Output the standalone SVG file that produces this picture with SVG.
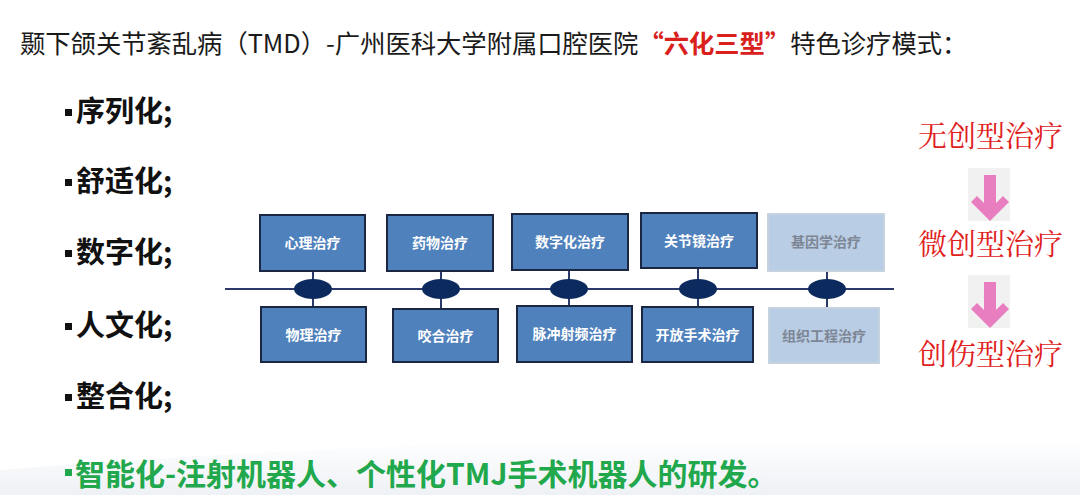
<svg xmlns="http://www.w3.org/2000/svg" width="1080" height="495" viewBox="0 0 1080 495">
<defs>
<style>
.title{font-family:"Noto Sans CJK SC","Noto Sans",sans-serif;font-size:25.3px;fill:#1a1a1a}
.red{fill:#d9201c;font-weight:bold}
.bul{font-family:"Noto Sans CJK SC","Noto Sans",sans-serif;font-size:29px;font-weight:bold;fill:#111}
.green{font-family:"Noto Sans CJK SC","Noto Sans",sans-serif;font-size:30px;font-weight:bold;fill:#21a84c}
.box{fill:#4f81bd;stroke:#1b2742;stroke-width:2}
.lbox{fill:#b9cde5;stroke:#c6d2e0;stroke-width:2}
.bt{font-family:"Noto Sans CJK SC","Noto Sans",sans-serif;font-size:14px;font-weight:bold;fill:#fff;text-anchor:middle}
.lbt{fill:#7d8694}
.knot{fill:#0c2a5e}
.ln{stroke:#2b3a68;stroke-width:2;fill:none}
.rt{font-family:"Noto Serif CJK SC","Noto Sans CJK SC",serif;font-size:29px;fill:#e0201c}
.arr{fill:#e87dbf}
.arrbg{fill:#f1f1f1}
</style>
<linearGradient id="bg" x1="0" y1="0" x2="0" y2="1">
<stop offset="0" stop-color="#ffffff"/>
<stop offset="1" stop-color="#eef1f5"/>
</linearGradient>
</defs>
<rect x="0" y="0" width="1080" height="495" fill="#ffffff"/>
<path d="M0,470 Q500,430 1080,440 L1080,495 L0,495 Z" fill="url(#bg)"/>

<g id="title">
<text class="title" x="20" y="53">颞下颌关节紊乱病（TMD）-广州医科大学附属口腔医院<tspan class="red">“六化三型”</tspan>特色诊疗模式：</text>
</g>

<g id="bullets">
<rect x="65" y="109" width="7" height="7" fill="#111"/>
<text class="bul" x="76" y="122">序列化;</text>
<rect x="65" y="179" width="7" height="7" fill="#111"/>
<text class="bul" x="76" y="192">舒适化;</text>
<rect x="65" y="250" width="7" height="7" fill="#111"/>
<text class="bul" x="76" y="263">数字化;</text>
<rect x="65" y="323" width="7" height="7" fill="#111"/>
<text class="bul" x="76" y="336">人文化;</text>
<rect x="65" y="394" width="7" height="7" fill="#111"/>
<text class="bul" x="76" y="407">整合化;</text>
<rect x="65" y="469" width="7" height="7" fill="#21a84c"/>
<text class="green" x="75" y="485">智能化-注射机器人、个性化TMJ手术机器人的研发。</text>
</g>

<g id="connectors">
<line class="ln" x1="225" y1="289" x2="894" y2="289"/>
<line class="ln" x1="313" y1="271" x2="313" y2="308"/>
<line class="ln" x1="441" y1="271" x2="441" y2="309"/>
<line class="ln" x1="569" y1="270" x2="569" y2="307"/>
<line class="ln" x1="698" y1="268" x2="698" y2="307"/>
<line class="ln" x1="827" y1="271" x2="827" y2="308"/>
<ellipse class="knot" cx="313" cy="289" rx="19" ry="10"/>
<ellipse class="knot" cx="441" cy="289" rx="19" ry="10"/>
<ellipse class="knot" cx="569" cy="289" rx="19" ry="10"/>
<ellipse class="knot" cx="698" cy="289" rx="19" ry="10"/>
<ellipse class="knot" cx="827" cy="289" rx="19" ry="10"/>
</g>

<g id="n-xinli"><rect class="box" x="260" y="215" width="105" height="56"/><text class="bt" x="312.5" y="248">心理治疗</text></g>
<g id="n-yaowu"><rect class="box" x="387" y="215" width="106" height="56"/><text class="bt" x="440" y="248">药物治疗</text></g>
<g id="n-shuzihua"><rect class="box" x="512" y="214" width="116" height="56"/><text class="bt" x="570" y="247">数字化治疗</text></g>
<g id="n-guanjiejing"><rect class="box" x="641" y="213" width="116" height="55"/><text class="bt" x="699" y="246">关节镜治疗</text></g>
<g id="n-jiyinxue"><rect class="lbox" x="768" y="214" width="116" height="57"/><text class="bt lbt" x="826" y="247">基因学治疗</text></g>

<g id="n-wuli"><rect class="box" x="261" y="307" width="105" height="55"/><text class="bt" x="313.5" y="340">物理治疗</text></g>
<g id="n-yaohe"><rect class="box" x="393" y="309" width="105" height="53"/><text class="bt" x="445.5" y="341">咬合治疗</text></g>
<g id="n-maichong"><rect class="box" x="517" y="306" width="115" height="56"/><text class="bt" x="574.5" y="339">脉冲射频治疗</text></g>
<g id="n-kaifang"><rect class="box" x="642" y="307" width="111" height="55"/><text class="bt" x="697.5" y="340">开放手术治疗</text></g>
<g id="n-zuzhi"><rect class="lbox" x="769" y="308" width="110" height="55"/><text class="bt lbt" x="824" y="341">组织工程治疗</text></g>

<g id="n-wuchuang"><text class="rt" x="918" y="147">无创型治疗</text></g>
<g id="arrow1">
<rect class="arrbg" x="968" y="168" width="42" height="53"/>
<polygon class="arr" points="984,175 996,175 996,203 1003,196 1009,202 990,221 971,202 977,196 984,203"/>
</g>
<g id="n-weichuang"><text class="rt" x="918" y="255">微创型治疗</text></g>
<g id="arrow2">
<rect class="arrbg" x="968" y="275" width="42" height="53"/>
<polygon class="arr" points="984,282 996,282 996,310 1003,303 1009,309 990,328 971,309 977,303 984,310"/>
</g>
<g id="n-chuangshang"><text class="rt" x="918" y="365">创伤型治疗</text></g>
</svg>
